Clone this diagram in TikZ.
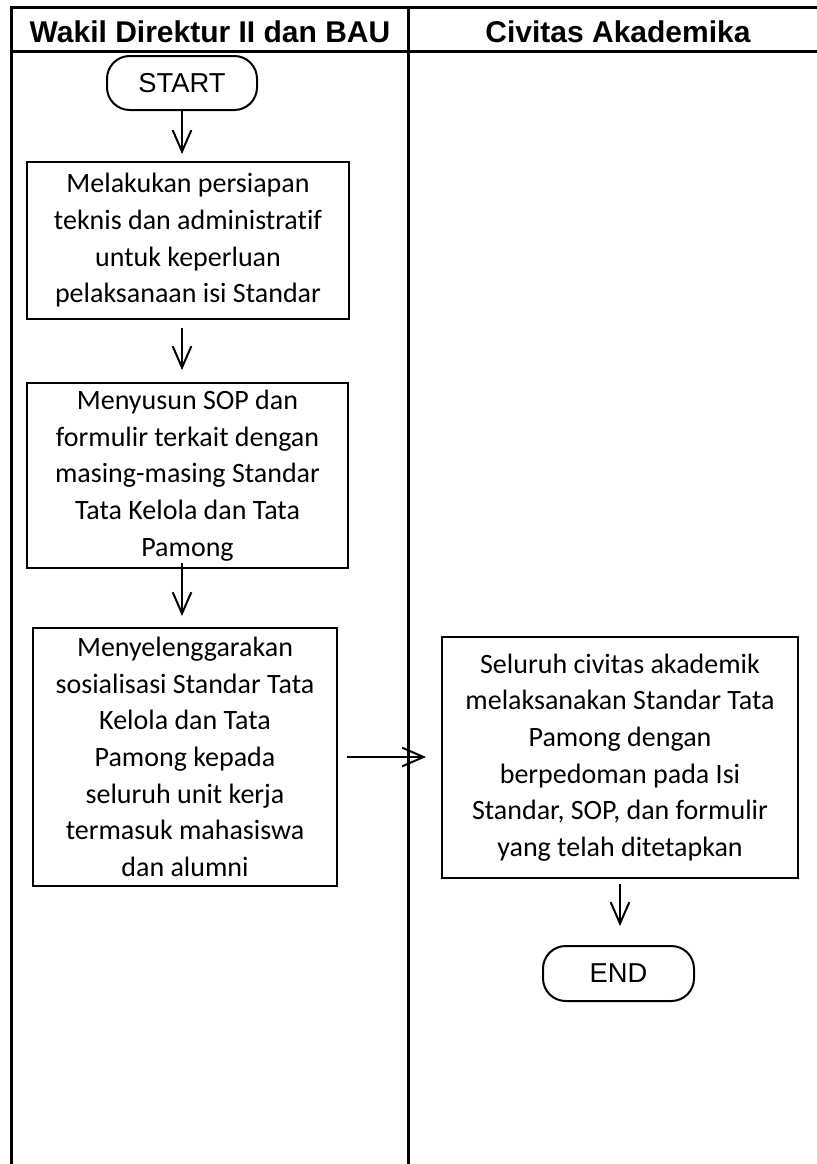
\documentclass[tikz,border=0pt]{standalone}
\usepackage{fontspec}
\setmainfont[Ligatures=NoCommon]{Carlito}
\newfontfamily\arialfont{Liberation Sans}
\usepackage{tikz}
\usetikzlibrary{shapes.geometric, arrows.meta, positioning}
\tikzset{
    startstop/.style={rectangle, rounded corners=17pt, minimum width=112.5pt, minimum height=40.5pt, text centered, draw=black, line width=1.5pt, font=\arialfont\fontsize{20.5}{24}\selectfont},
    process/.style={rectangle, align=center, draw=black, line width=1.5pt, inner sep=0pt, font=\fontsize{21}{27.5}\selectfont},
    arrow/.style={line width=1.5pt, -{Straight Barb[length=16pt,width=14pt]}},
    lane/.style={line width=2.25pt},
    lanehead/.style={anchor=base, font=\arialfont\bfseries\fontsize{22.5}{27}\selectfont},
}
\begin{document}
\begin{tikzpicture}[x=0.75pt,y=-0.75pt]
  \useasboundingbox (0,0) rectangle (817,1164);
  % swimlanes
  \draw[lane] (817,7) -| (11,1164);
  \draw[lane] (11,51) -- (817,51);
  \draw[lane] (408,7) -- (408,1164);
  \node[lanehead] (wadir)   at (210,42) {Wakil Direktur II dan BAU};
  \node[lanehead] (civitas) at (618,42) {Civitas Akademika};

  \node[startstop] (start) at (182,83) {START};
  \node[process, minimum width=241.5pt, minimum height=117.75pt] (persiapan) at (188,240.5)
    {Melakukan persiapan\\teknis dan administratif\\untuk keperluan\\pelaksanaan isi Standar};
  \node[process, minimum width=240.75pt, minimum height=138.75pt] (sop) at (187.5,475.5)
    {Menyusun SOP dan\\formulir terkait dengan\\masing-masing Standar\\Tata Kelola dan Tata\\Pamong};
  \node[process, minimum width=228pt, minimum height=193.5pt] (sosialisasi) at (185,757)
    {Menyelenggarakan\\sosialisasi Standar Tata\\Kelola dan Tata\\Pamong kepada\\seluruh unit kerja\\termasuk mahasiswa\\dan alumni};
  \node[process, minimum width=267pt, minimum height=180.75pt] (pelaksanaan) at (620,757.5)
    {Seluruh civitas akademik\\melaksanakan Standar Tata\\Pamong dengan\\berpedoman pada Isi\\Standar, SOP, dan formulir\\yang telah ditetapkan};
  \node[startstop, minimum width=113.25pt, minimum height=41.25pt] (end) at (618.5,973.5) {END};

  \draw[arrow, shorten >=5.25pt] (start) -- (start |- persiapan.north);
  \draw[arrow, shorten <=6pt, shorten >=9pt] (persiapan.south -| start) -- (sop.north -| start);
  \draw[arrow, shorten <=-4.5pt, shorten >=8.25pt] (sop.south -| start) -- (sosialisasi.north -| start);
  \draw[arrow, shorten <=6.75pt, shorten >=11.25pt] (sosialisasi.east) -- (sosialisasi.east -| pelaksanaan.west);
  \draw[arrow, shorten <=3.75pt, shorten >=14.25pt] (pelaksanaan.south) -- (pelaksanaan.south |- end.north);
\end{tikzpicture}
\end{document}
